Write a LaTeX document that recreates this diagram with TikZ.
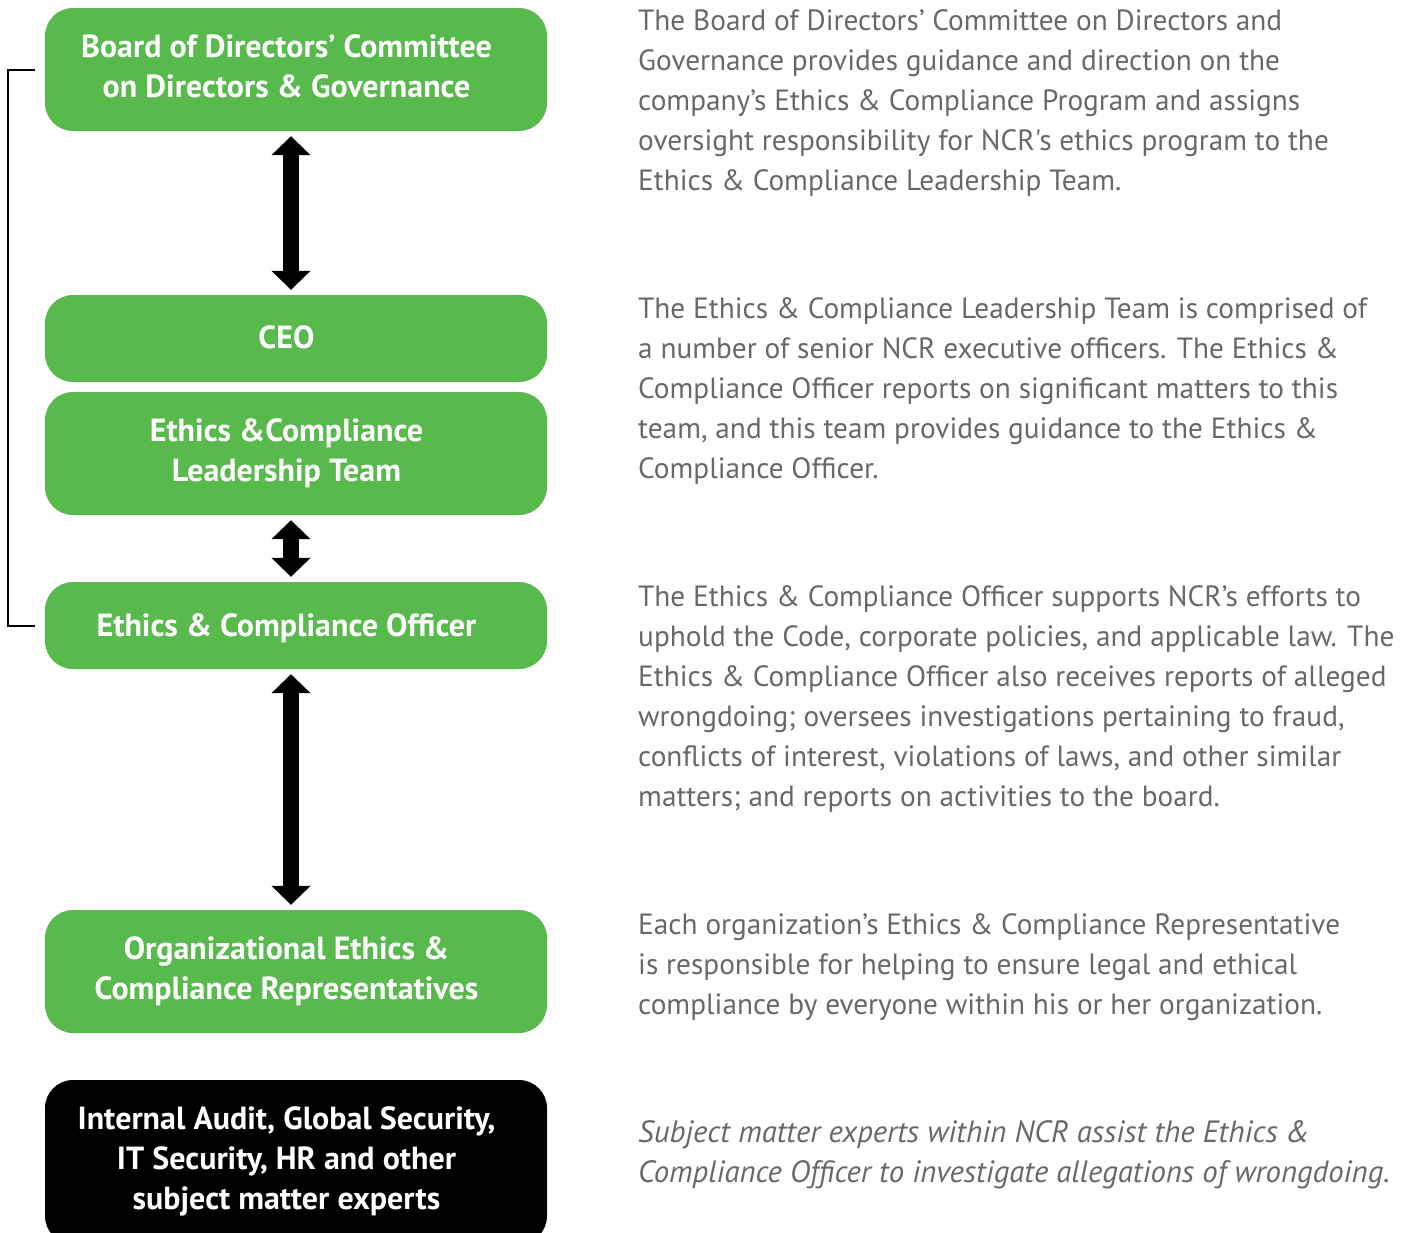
\documentclass[tikz,border=0pt]{standalone}
\usepackage{fontspec}
\setmainfont{PT Sans}[Ligatures=TeXOff]
\usetikzlibrary{arrows.meta}
\definecolor{ncrgreen}{RGB}{88,185,76}
\definecolor{txtgray}{RGB}{104,104,104}
\tikzset{
  box/.style={fill=ncrgreen, rounded corners=28pt, minimum width=502pt, inner sep=0pt},
  darkbox/.style={box, fill=black},
  boxtext/.style={text=white, font=\fontsize{32pt}{40pt}\selectfont\bfseries, align=center,
    inner sep=0pt, anchor=base},
  desc/.style={anchor=base west, align=left, inner sep=0pt, text=txtgray,
    font=\fontsize{29.3pt}{40pt}\selectfont},
  descit/.style={desc, font=\fontsize{30.8pt}{40pt}\selectfont\itshape},
  dblarrow/.style={line width=16pt, {Triangle[width=38pt,length=19pt]}-{Triangle[width=38pt,length=19pt]},
    shorten >=5pt, shorten <=5pt},
  bracket/.style={line width=2pt}
}
\begin{document}
\begin{tikzpicture}[x=1pt,y=-1pt]
\useasboundingbox (0,0) rectangle (1413,1232);
\clip (0,0) rectangle (1413,1232);
\node[box, minimum height=123pt] (b1) at (296,69.5) {};
\node[box, minimum height=87pt] (ceo) at (296,338.5) {};
\node[box, minimum height=123pt] (eclt) at (296,453.5) {};
\node[box, minimum height=87pt] (eco) at (296,625.5) {};
\node[box, minimum height=123pt] (oecr) at (296,971.5) {};
\node[darkbox, minimum height=164pt] (sme) at (296,1162) {};

\node[boxtext] (b1t) at (286.5,97) {Board of Directors’ Committee\\on Directors \& Governance};
\node[boxtext] (ceot) at (286.5,348) {CEO};
\node[boxtext] (ecltt) at (286.5,481) {Ethics \&Compliance\\Leadership Team};
\node[boxtext] (ecot) at (286.5,636) {Ethics \& Compliance Officer};
\node[boxtext] (oecrt) at (286.5,999) {Organizational Ethics \&\\Compliance Representatives};
\node[boxtext] (smet) at (286.5,1209) {Internal Audit, Global Security,\\IT Security, HR and other\\subject matter experts};

\draw[dblarrow] ([xshift=-5pt]b1.south) -- ([xshift=-5pt]ceo.north);
\draw[dblarrow] ([xshift=-5pt]eclt.south) -- ([xshift=-5pt]eco.north);
\draw[dblarrow] ([xshift=-5pt]eco.south) -- ([xshift=-5pt]oecr.north);

\draw[bracket] ([xshift=-10pt]b1.west) -- ++(-27pt,0) coordinate (bt) |- ([xshift=-10pt]eco.west);

\node[desc] (d1) at (638,190) {The Board of Directors’ Committee on Directors and\\Governance provides guidance and direction on the\\company’s Ethics \& Compliance Program and assigns\\oversight responsibility for NCR's ethics program to the\\Ethics \& Compliance Leadership Team.};
\node[desc] (d2) at (638,478) {The Ethics \& Compliance Leadership Team is comprised of\\a number of senior NCR executive officers. The Ethics \&\\Compliance Officer reports on significant matters to this\\team, and this team provides guidance to the Ethics \&\\Compliance Officer.};
\node[desc] (d3) at (638,806) {The Ethics \& Compliance Officer supports NCR’s efforts to\\uphold the Code, corporate policies, and applicable law. The\\Ethics \& Compliance Officer also receives reports of alleged\\wrongdoing; oversees investigations pertaining to fraud,\\conflicts of interest, violations of laws, and other similar\\matters; and reports on activities to the board.};
\node[desc] (d4) at (638,1014) {Each organization’s Ethics \& Compliance Representative\\is responsible for helping to ensure legal and ethical\\compliance by everyone within his or her organization.};
\node[descit] (d5) at (638,1182) {Subject matter experts within NCR assist the Ethics \&\\Compliance Officer to investigate allegations of wrongdoing.};
\end{tikzpicture}
\end{document}
